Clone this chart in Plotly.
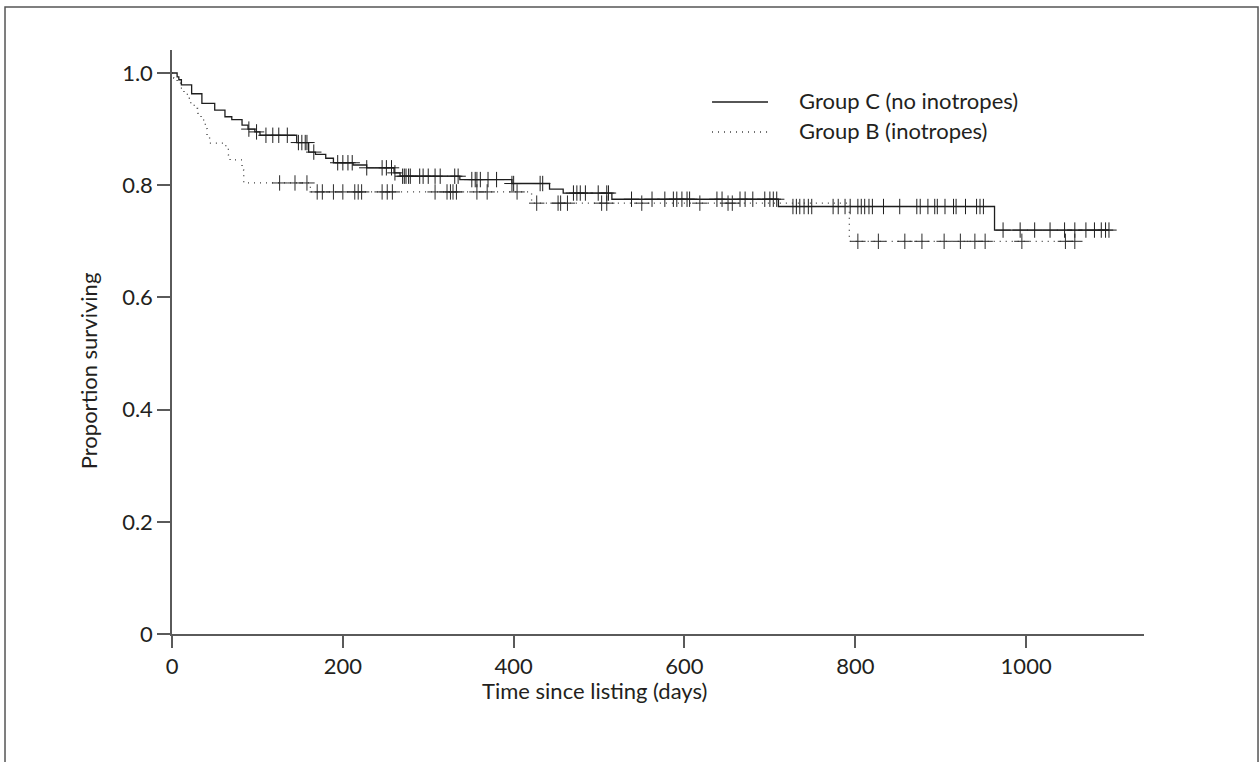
import numpy as np
import plotly.graph_objects as go

# Kaplan-Meier step data: event times (days) and survival after each event
group_c_times = [0, 6, 8, 11, 23, 35, 50, 62, 70, 82, 89, 97, 103, 146, 160, 168,
                 180, 189, 212, 228, 260, 267, 337, 398, 442, 458, 515, 710, 963]
group_c_surv = [1.0, 0.993, 0.988, 0.979, 0.963, 0.946, 0.934, 0.922, 0.917, 0.907,
                0.900, 0.895, 0.889, 0.876, 0.859, 0.855, 0.848, 0.840, 0.836, 0.831,
                0.822, 0.816, 0.810, 0.803, 0.793, 0.786, 0.775, 0.762, 0.720]
group_c_end = 1097
group_c_censored = [90, 99, 110, 118, 125, 135, 148, 152, 156, 158, 166, 194, 200, 206,
                    211, 228, 246, 251, 257, 261, 270, 272, 274, 277, 279, 290, 294, 300,
                    308, 314, 331, 335, 351, 355, 357, 361, 370, 380, 398, 400, 431, 434,
                    470, 474, 478, 484, 499, 509, 511, 538, 562, 577, 587, 591, 597, 603,
                    606, 638, 644, 665, 671, 680, 694, 700, 704, 708, 727, 731, 735, 740,
                    745, 749, 774, 780, 788, 794, 803, 807, 811, 816, 820, 833, 852, 872,
                    876, 885, 893, 896, 905, 915, 918, 929, 942, 946, 950, 973, 993, 1010,
                    1028, 1045, 1057, 1070, 1080, 1088, 1093, 1097]

group_b_times = [0, 2, 6, 10, 14, 18, 22, 26, 30, 34, 37, 39, 41, 44, 63, 66, 68,
                 82, 84, 162, 421, 793]
group_b_surv = [1.0, 0.991, 0.982, 0.973, 0.964, 0.955, 0.946, 0.937, 0.928, 0.919,
                0.910, 0.901, 0.889, 0.875, 0.866, 0.854, 0.845, 0.827, 0.804, 0.788,
                0.768, 0.700]
group_b_end = 1057
group_b_censored = [126, 144, 158, 170, 176, 189, 200, 214, 218, 222, 246, 252, 258,
                    308, 322, 326, 329, 333, 357, 369, 404, 427, 452, 455, 463, 503, 509,
                    550, 618, 651, 656, 803, 827, 858, 878, 904, 923, 940, 952, 995, 1046,
                    1057]

x_tick_vals = [0, 200, 400, 600, 800, 1000]
y_tick_vals = [0, 0.2, 0.4, 0.6, 0.8, 1.0]
y_tick_text = ["0", "0.2", "0.4", "0.6", "0.8", "1.0"]

INK = "#231f20"
AXIS = "#5a5a5a"
FONT = "Lato"
FS = 22


def step_xy(times, surv, end):
    xs = list(times) + [end]
    ys = list(surv) + [surv[-1]]
    return xs, ys


def surv_at(times, surv, t):
    idx = np.searchsorted(np.array(times), t, side="right") - 1
    return surv[idx]


fig = go.Figure()

cx, cy = step_xy(group_c_times, group_c_surv, group_c_end)
fig.add_trace(go.Scatter(x=cx, y=cy, mode="lines", line_shape="hv",
                         line=dict(color="#1e1e1e", width=1.3), showlegend=False))
fig.add_trace(go.Scatter(x=group_c_censored,
                         y=[surv_at(group_c_times, group_c_surv, t) for t in group_c_censored],
                         mode="markers",
                         marker=dict(symbol="cross-thin", size=11,
                                     line=dict(color="#1e1e1e", width=1)),
                         showlegend=False))

bx, by = step_xy(group_b_times, group_b_surv, group_b_end)
fig.add_trace(go.Scatter(x=bx, y=by, mode="lines", line_shape="hv",
                         line=dict(color="#3a3a3a", width=1.3, dash="1px,5px"),
                         showlegend=False))
fig.add_trace(go.Scatter(x=group_b_censored,
                         y=[surv_at(group_b_times, group_b_surv, t) for t in group_b_censored],
                         mode="markers",
                         marker=dict(symbol="cross-thin", size=11,
                                     line=dict(color="#2a2a2a", width=1)),
                         showlegend=False))

axis_common = dict(showline=True, linecolor=AXIS, linewidth=1.5, ticks="outside",
                   tickcolor=AXIS, tickwidth=1.5, showgrid=False, zeroline=False,
                   tickfont=dict(family=FONT, size=FS, color=INK))

fig.update_xaxes(range=[0, 1138], tickvals=x_tick_vals, ticklen=12, **axis_common)
fig.update_yaxes(range=[0, 1.041], tickvals=y_tick_vals, ticktext=y_tick_text,
                 ticklen=13, **axis_common)

# Outer frame around the whole figure
fig.add_shape(type="rect", xref="paper", yref="paper",
              x0=-0.1718, x1=1.1173, y0=-0.35, y1=1.0736,
              line=dict(color="#555555", width=1.5), layer="below")

# Legend drawn as sample lines with labels
fig.add_shape(type="line", xref="paper", yref="paper", x0=0.5556, x1=0.6132,
              y0=0.911, y1=0.911, line=dict(color="#1e1e1e", width=1.3))
fig.add_shape(type="line", xref="paper", yref="paper", x0=0.5556, x1=0.6132,
              y0=0.8596, y1=0.8596, line=dict(color="#3a3a3a", width=1.3, dash="1px,5px"))
fig.add_annotation(text="Group C (no inotropes)", xref="paper", yref="paper",
                   x=0.643, y=0.914, xanchor="left", yanchor="middle", showarrow=False,
                   font=dict(family=FONT, size=FS, color=INK))
fig.add_annotation(text="Group B (inotropes)", xref="paper", yref="paper",
                   x=0.643, y=0.863, xanchor="left", yanchor="middle", showarrow=False,
                   font=dict(family=FONT, size=FS, color=INK))

# Axis titles
fig.add_annotation(text="Time since listing (days)", xref="paper", yref="paper",
                   x=0.435, y=-0.0976, xanchor="center", yanchor="middle",
                   showarrow=False, font=dict(family=FONT, size=FS, color=INK))
fig.add_annotation(text="Proportion surviving", xref="paper", yref="paper",
                   x=-0.0864, y=0.45, xanchor="center", yanchor="middle", textangle=-90,
                   showarrow=False, font=dict(family=FONT, size=FS, color=INK))

fig.update_layout(width=1259, height=762, paper_bgcolor="white", plot_bgcolor="white",
                  margin=dict(l=172, r=115, t=50, b=128),
                  font=dict(family=FONT, color=INK))

fig.write_html("out.html")
